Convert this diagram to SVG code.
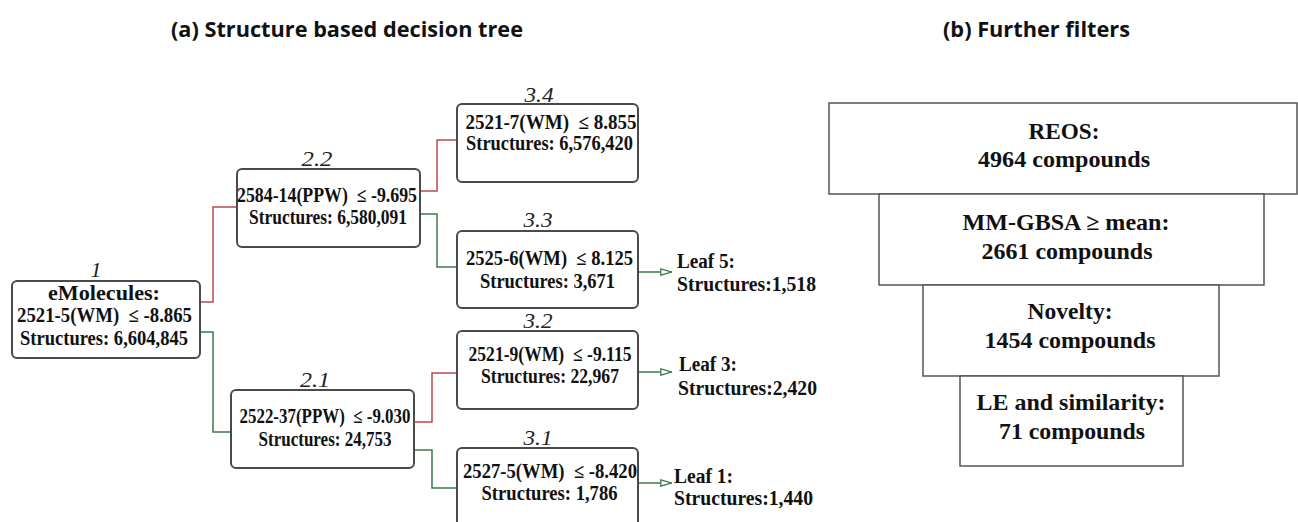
<svg xmlns="http://www.w3.org/2000/svg" width="1298" height="522" viewBox="0 0 1298 522">
<style>
.title{font-family:"Open Sans","Liberation Sans",sans-serif;font-weight:bold;font-size:22px;fill:#111}
.box{fill:#fff;stroke:#4a4a4a;stroke-width:2}
.fbox{fill:#fff;stroke:#555;stroke-width:1.5}
.t{font-family:"Liberation Serif","Times New Roman",serif;font-weight:bold;font-size:20px;fill:#111;text-anchor:middle}
.lf{font-family:"Liberation Serif","Times New Roman",serif;font-weight:bold;font-size:20px;fill:#111}
.ft{font-family:"Liberation Serif","Times New Roman",serif;font-weight:bold;font-size:23px;fill:#111;text-anchor:middle}
.lab{font-family:"Liberation Serif","Times New Roman",serif;font-style:italic;font-size:22px;fill:#222;text-anchor:middle}
.red{fill:none;stroke:#b84a4a;stroke-width:1.5}
.grn{fill:none;stroke:#3d7a4e;stroke-width:1.5}
</style>
<defs>
<marker id="oa" viewBox="0 0 12 8" refX="12" refY="4" markerWidth="12" markerHeight="8" markerUnits="userSpaceOnUse" orient="auto">
<path d="M0.8,0.8 L11.2,4 L0.8,7.2 Z" fill="#fff" stroke="#3d7a4e" stroke-width="1.3"/>
</marker>
</defs>
<rect width="1298" height="522" fill="#fff"/>
<text class="title" x="171" y="37" textLength="352" lengthAdjust="spacingAndGlyphs">(a) Structure based decision tree</text>
<text class="title" x="943" y="37" textLength="187" lengthAdjust="spacingAndGlyphs">(b) Further filters</text>

<g id="connectors">
<path class="red" d="M200,302 H213 V207 H237"/>
<path class="grn" d="M200,332 H213 V432 H231"/>
<path class="red" d="M420,191 H437 V140 H457"/>
<path class="grn" d="M420,214 H437 V267 H457"/>
<path class="red" d="M414,422 H432 V373 H457"/>
<path class="grn" d="M414,450 H432 V488 H457"/>
<path class="grn" d="M638,272 H672" marker-end="url(#oa)"/>
<path class="grn" d="M638,372 H672" marker-end="url(#oa)"/>
<path class="grn" d="M638,483 H672" marker-end="url(#oa)"/>
</g>

<g id="node1">
<rect class="box" x="12" y="281" width="188" height="77" rx="5"/>
<text class="lab" x="96" y="277">1</text>
<text class="t" x="104" y="300" textLength="112" lengthAdjust="spacingAndGlyphs">eMolecules:</text>
<text class="t" x="104.5" y="322" textLength="175" lengthAdjust="spacingAndGlyphs">2521-5(WM)&#160; ≤ -8.865</text>
<text class="t" x="104" y="345" textLength="168" lengthAdjust="spacingAndGlyphs">Structures: 6,604,845</text>
</g>

<g id="node2_2">
<rect class="box" x="237" y="169" width="183" height="78" rx="5"/>
<text class="lab" x="317" y="166" textLength="31" lengthAdjust="spacingAndGlyphs">2.2</text>
<text class="t" x="327" y="202" textLength="180" lengthAdjust="spacingAndGlyphs">2584-14(PPW)&#160; ≤ -9.695</text>
<text class="t" x="328" y="224" textLength="158" lengthAdjust="spacingAndGlyphs">Structures: 6,580,091</text>
</g>

<g id="node2_1">
<rect class="box" x="231" y="390" width="183" height="78" rx="5"/>
<text class="lab" x="315" y="387" textLength="30" lengthAdjust="spacingAndGlyphs">2.1</text>
<text class="t" x="325" y="423" textLength="171" lengthAdjust="spacingAndGlyphs">2522-37(PPW)&#160; ≤ -9.030</text>
<text class="t" x="325" y="446" textLength="133" lengthAdjust="spacingAndGlyphs">Structures: 24,753</text>
</g>

<g id="node3_4">
<rect class="box" x="457" y="104" width="181" height="78" rx="5"/>
<text class="lab" x="539" y="102" textLength="29" lengthAdjust="spacingAndGlyphs">3.4</text>
<text class="t" x="551" y="129" textLength="171" lengthAdjust="spacingAndGlyphs">2521-7(WM)&#160; ≤ 8.855</text>
<text class="t" x="549.5" y="150" textLength="167" lengthAdjust="spacingAndGlyphs">Structures: 6,576,420</text>
</g>

<g id="node3_3">
<rect class="box" x="457" y="231" width="181" height="77" rx="5"/>
<text class="lab" x="538" y="227" textLength="29" lengthAdjust="spacingAndGlyphs">3.3</text>
<text class="t" x="549.5" y="265" textLength="167" lengthAdjust="spacingAndGlyphs">2525-6(WM)&#160; ≤ 8.125</text>
<text class="t" x="547.5" y="288" textLength="135" lengthAdjust="spacingAndGlyphs">Structures: 3,671</text>
</g>

<g id="node3_2">
<rect class="box" x="457" y="331" width="181" height="78" rx="5"/>
<text class="lab" x="538" y="328" textLength="29" lengthAdjust="spacingAndGlyphs">3.2</text>
<text class="t" x="550" y="361" textLength="163" lengthAdjust="spacingAndGlyphs">2521-9(WM)&#160; ≤ -9.115</text>
<text class="t" x="550" y="383" textLength="138" lengthAdjust="spacingAndGlyphs">Structures: 22,967</text>
</g>

<g id="node3_1">
<rect class="box" x="457" y="448" width="181" height="90" rx="5"/>
<text class="lab" x="538" y="445" textLength="29" lengthAdjust="spacingAndGlyphs">3.1</text>
<text class="t" x="550" y="478" textLength="174" lengthAdjust="spacingAndGlyphs">2527-5(WM)&#160; ≤ -8.420</text>
<text class="t" x="549.5" y="500" textLength="136" lengthAdjust="spacingAndGlyphs">Structures: 1,786</text>
</g>

<g id="leaf5">
<text class="lf" x="677" y="268" textLength="58" lengthAdjust="spacingAndGlyphs">Leaf 5:</text>
<text class="lf" x="677" y="291" textLength="139" lengthAdjust="spacingAndGlyphs">Structures:1,518</text>
</g>
<g id="leaf3">
<text class="lf" x="679" y="371" textLength="58" lengthAdjust="spacingAndGlyphs">Leaf 3:</text>
<text class="lf" x="678" y="395" textLength="139" lengthAdjust="spacingAndGlyphs">Structures:2,420</text>
</g>
<g id="leaf1">
<text class="lf" x="674" y="483" textLength="59" lengthAdjust="spacingAndGlyphs">Leaf 1:</text>
<text class="lf" x="674" y="505" textLength="139" lengthAdjust="spacingAndGlyphs">Structures:1,440</text>
</g>

<g id="filter_reos">
<rect class="fbox" x="829" y="103" width="468" height="91"/>
<text class="ft" x="1064" y="139" textLength="71" lengthAdjust="spacingAndGlyphs">REOS:</text>
<text class="ft" x="1064" y="167" textLength="172" lengthAdjust="spacingAndGlyphs">4964 compounds</text>
</g>
<g id="filter_mmgbsa">
<rect class="fbox" x="879" y="194" width="385" height="91"/>
<text class="ft" x="1066" y="230" textLength="207" lengthAdjust="spacingAndGlyphs">MM-GBSA ≥ mean:</text>
<text class="ft" x="1067" y="259" textLength="171" lengthAdjust="spacingAndGlyphs">2661 compounds</text>
</g>
<g id="filter_novelty">
<rect class="fbox" x="923" y="285" width="296" height="91"/>
<text class="ft" x="1070" y="319" textLength="85" lengthAdjust="spacingAndGlyphs">Novelty:</text>
<text class="ft" x="1070" y="348" textLength="171" lengthAdjust="spacingAndGlyphs">1454 compounds</text>
</g>
<g id="filter_le">
<rect class="fbox" x="960" y="376" width="223" height="90"/>
<text class="ft" x="1071" y="410" textLength="189" lengthAdjust="spacingAndGlyphs">LE and similarity:</text>
<text class="ft" x="1072" y="439" textLength="146" lengthAdjust="spacingAndGlyphs">71 compounds</text>
</g>
</svg>
